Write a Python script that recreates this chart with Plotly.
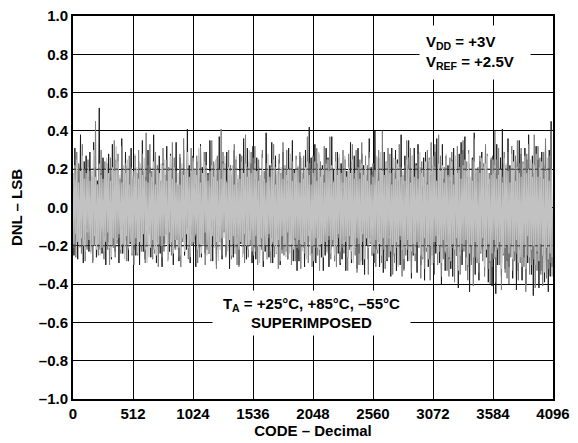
import plotly.graph_objects as go

# ---------------- data (DNL in hundredths of an LSB, one value every 8 codes) ----------------
CODE_STEP = 8

dnl_black_c = [
    12,-25,31,-8,19,-27,22,-14,38,-21,9,-29,24,-17,27,-11,
    16,-23,29,-19,11,-28,34,-13,21,-26,14,-9,52,-22,18,-24,
    26,-15,10,-30,23,-18,28,-12,17,-27,33,-20,13,-23,25,-16,
    20,-29,15,-11,36,-24,12,-21,29,-17,22,-28,9,-19,31,-13,
    14,-22,27,-25,18,-10,24,-30,11,-16,35,-23,19,-27,16,-20,
    30,-12,21,-26,13,-22,38,-15,25,-29,10,-18,27,-24,14,-31,
    23,-19,17,-14,32,-27,9,-23,28,-12,20,-30,15,-21,34,-17,
    11,-28,26,-20,19,-16,30,-25,13,-22,41,-11,22,-29,18,-14,
    27,-17,12,-31,24,-21,16,-13,33,-26,21,-19,10,-24,29,-22,
    18,-24,35,-10,15,-28,23,-20,12,-30,26,-15,37,-18,11,-27,
    24,-13,20,-25,29,-17,14,-32,22,-11,17,-26,30,-21,25,-16,
    13,-30,28,-19,10,-24,36,-14,19,-27,31,-22,16,-12,23,-29,
    32,-21,15,-27,26,-12,21,-25,11,-18,28,-31,14,-23,39,-15,
    17,-26,22,-16,34,-29,13,-20,27,-24,9,-14,25,-30,18,-22,
    29,-11,19,-23,14,-27,31,-18,24,-13,35,-28,20,-17,12,-33,
    21,-28,27,-14,18,-21,11,-31,30,-25,16,-20,42,-12,26,-24,
    15,-20,33,-29,23,-16,28,-11,13,-26,22,-33,17,-25,31,-18,
    26,-31,12,-22,37,-19,20,-28,16,-14,29,-24,11,-30,23,-27,
    10,-17,25,-33,19,-26,14,-21,34,-29,24,-12,27,-19,15,-32,
    31,-24,18,-13,28,-30,22,-35,12,-20,17,-27,36,-16,21,-25,
    19,-29,40,-22,15,-18,26,-31,23,-14,11,-34,29,-23,17,-28,
    24,-15,13,-36,31,-25,18,-19,30,-33,25,-17,14,-30,38,-21,
    12,-32,27,-20,22,-28,35,-15,16,-37,20,-25,31,-12,23,-34,
    33,-18,21,-30,11,-23,26,-38,29,-19,13,-31,24,-27,17,-22,
    17,-35,29,-24,36,-14,12,-29,22,-40,33,-21,15,-33,27,-18,
    22,-27,14,-32,25,-36,31,-17,19,-25,10,-42,28,-23,34,-30,
    30,-20,37,-26,16,-31,23,-44,13,-28,26,-19,39,-35,18,-27,
    14,-38,24,-22,29,-17,20,-33,32,-26,21,-39,12,-29,25,-41,
    27,-23,18,-45,33,-30,15,-24,26,-36,41,-20,23,-32,19,-28,
    36,-31,22,-19,13,-37,30,-27,17,-43,24,-33,35,-22,28,-38,
    20,-26,31,-40,25,-29,38,-21,14,-35,27,-46,18,-30,32,-24,
    25,-42,16,-33,29,-25,22,-39,34,-28,19,-44,30,-36,45,-31,
]

dnl_gray_c = [
    18,-21,14,-26,29,-12,23,-19,11,-24,33,-16,20,-28,15,-22,
    25,-13,19,-23,16,-29,27,-20,45,-15,12,-25,22,-18,30,-11,
    13,-27,24,-17,21,-22,10,-30,26,-14,19,-21,35,-26,17,-19,
    28,-16,12,-24,32,-20,18,-13,23,-28,14,-22,27,-11,21,-25,
    16,-30,26,-19,11,-25,30,-17,20,-23,28,-12,15,-29,39,-18,
    22,-14,33,-21,19,-27,13,-24,29,-16,22,-31,18,-20,12,-26,
    31,-23,17,-12,25,-28,21,-19,14,-25,34,-18,26,-22,19,-14,
    12,-26,28,-31,15,-18,36,-23,19,-11,25,-27,10,-24,31,-20,
    24,-19,20,-15,27,-29,12,-26,32,-21,16,-13,29,-30,22,-17,
    17,-24,11,-28,35,-13,24,-20,18,-32,27,-22,14,-17,41,-25,
    29,-12,23,-26,14,-21,30,-15,22,-27,11,-19,33,-24,16,-30,
    15,-31,19,-18,27,-24,16,-29,38,-14,21,-26,24,-20,29,-12,
    26,-20,32,-23,12,-30,25,-17,15,-22,30,-28,19,-15,23,-27,
    20,-16,14,-29,23,-19,33,-26,21,-13,17,-32,28,-21,11,-24,
    34,-25,22,-14,30,-27,11,-21,26,-30,24,-17,16,-28,27,-19,
    13,-22,29,-32,18,-15,27,-24,12,-20,37,-29,23,-18,20,-31,
    27,-28,16,-21,31,-25,19,-33,24,-18,13,-26,32,-14,25,-23,
    19,-17,37,-27,22,-20,14,-28,29,-31,20,-16,26,-29,14,-21,
    30,-24,21,-15,16,-33,28,-22,11,-27,33,-20,18,-25,30,-34,
    14,-30,25,-28,34,-18,20,-26,27,-16,22,-35,29,-19,17,-23,
    23,-19,12,-31,26,-24,30,-14,19,-29,40,-22,15,-32,24,-27,
    31,-26,28,-20,18,-35,16,-29,25,-21,14,-30,33,-17,21,-36,
    17,-33,22,-25,35,-22,26,-18,31,-34,27,-24,12,-28,19,-20,
    28,-21,15,-37,24,-27,20,-32,13,-23,30,-19,26,-38,34,-25,
    22,-29,33,-18,14,-30,38,-23,27,-36,18,-27,21,-24,15,-33,
    16,-36,26,-28,29,-21,17,-39,22,-25,32,-31,14,-35,28,-22,
    35,-23,19,-33,24,-38,30,-20,15,-30,25,-41,36,-26,20,-29,
    21,-34,27,-24,13,-28,23,-36,33,-19,28,-32,18,-40,26,-31,
    18,-27,40,-39,25,-22,31,-30,20,-43,16,-25,29,-34,22,-37,
    29,-40,20,-26,32,-33,14,-28,27,-24,35,-38,23,-29,31,-26,
    24,-31,17,-44,28,-25,33,-35,19,-30,23,-27,38,-42,16,-33,
    32,-28,26,-35,21,-41,29,-26,36,-37,18,-32,27,-29,40,-36,
]

dnl_light_c = [
    17,-19,22,-14,25,-18,13,-21,19,-16,27,-20,15,-23,18,-13,
    21,-17,14,-24,19,-20,30,-15,16,-22,12,-19,23,-25,17,-21,
    15,-23,20,-18,26,-13,18,-21,14,-26,21,-16,19,-20,32,-17,
    24,-14,17,-22,13,-19,22,-27,18,-15,25,-21,12,-18,20,-24,
    19,-20,28,-16,21,-24,15,-18,23,-20,17,-14,26,-22,14,-29,
    13,-26,18,-21,16,-17,24,-22,12,-25,20,-19,18,-15,23,-20,
    22,-15,25,-19,14,-28,19,-13,27,-18,15,-24,21,-17,13,-22,
    18,-21,12,-25,23,-16,17,-23,20,-14,29,-21,16,-26,19,-18,
    26,-18,20,-14,17,-22,31,-19,13,-24,18,-20,24,-13,22,-25,
    14,-24,19,-27,22,-15,16,-21,25,-18,14,-28,20,-22,15,-16,
    23,-16,27,-20,13,-23,21,-17,19,-25,22,-15,12,-24,27,-19,
    17,-22,15,-18,24,-26,18,-14,23,-20,16,-22,30,-17,18,-23,
    20,-25,23,-15,19,-20,14,-29,17,-16,26,-23,15,-20,13,-27,
    28,-14,16,-23,21,-18,25,-20,12,-24,19,-17,23,-28,21,-15,
    15,-20,22,-26,17,-13,20,-24,28,-19,14,-22,18,-16,25,-21,
    22,-17,13,-19,26,-23,15,-18,21,-27,24,-15,17,-25,12,-20,
    18,-28,24,-16,14,-21,29,-22,16,-19,20,-26,13,-18,23,-24,
    25,-15,19,-24,22,-17,13,-25,24,-20,17,-14,28,-23,18,-19,
    13,-22,27,-18,16,-26,21,-15,18,-23,25,-29,15,-21,20,-16,
    21,-19,15,-30,23,-14,17,-27,22,-16,14,-21,26,-18,12,-25,
    16,-24,20,-17,27,-22,14,-19,29,-25,19,-16,17,-28,24,-20,
    24,-16,18,-23,12,-20,26,-24,15,-18,23,-31,21,-15,16,-22,
    19,-27,14,-21,25,-17,20,-28,13,-23,27,-19,16,-24,22,-18,
    15,-20,29,-25,18,-26,16,-16,24,-21,12,-27,25,-20,19,-30,
    27,-18,21,-15,14,-24,23,-20,19,-29,22,-17,13,-23,28,-21,
    17,-26,16,-28,24,-19,12,-22,27,-16,18,-33,21,-25,15,-19,
    22,-21,25,-17,19,-30,28,-24,16,-20,14,-26,24,-18,20,-27,
    14,-29,18,-23,26,-16,21,-31,23,-22,27,-19,15,-28,17,-24,
    25,-17,22,-26,15,-21,17,-18,20,-32,13,-24,26,-21,23,-20,
    19,-24,13,-19,28,-27,24,-23,14,-17,21,-29,18,-26,16,-31,
    23,-20,27,-32,18,-15,20,-26,25,-22,16,-20,22,-30,28,-23,
    16,-28,21,-19,24,-25,15,-34,19,-21,26,-27,14,-24,20,-26,
]

x_tickvals = [0, 512, 1024, 1536, 2048, 2560, 3072, 3584, 4096]
x_ticktext = ["0", "512", "1024", "1536", "2048", "2560", "3072", "3584", "4096"]
y_tickvals = [-1.0, -0.8, -0.6, -0.4, -0.2, 0.0, 0.2, 0.4, 0.6, 0.8, 1.0]
y_ticktext = ["\u20131.0", "\u20130.8", "\u20130.6", "\u20130.4", "\u20130.2", "0.0",
              "0.2", "0.4", "0.6", "0.8", "1.0"]
limit_lines = [0.2, -0.2]

FONT = "Liberation Sans, Arial, Helvetica, sans-serif"


def codes(n):
    return [i * CODE_STEP for i in range(n)]


fig = go.Figure()
series = [
    (dnl_black_c, "#1e1e1e", 1.0),
    (dnl_gray_c, "#7c7c7c", 1.0),
    (dnl_light_c, "#c2c2c2", 1.2),
]
for vals, col, lw in series:
    fig.add_trace(go.Scatter(
        x=codes(len(vals)), y=[v / 100 for v in vals], mode="lines",
        line=dict(color=col, width=lw), showlegend=False, hoverinfo="skip"))

for yv in limit_lines:
    fig.add_shape(type="line", xref="paper", x0=0, x1=1, yref="y", y0=yv, y1=yv,
                  line=dict(color="#333333", width=1, dash="dot"), layer="above")

fig.add_annotation(
    xref="paper", yref="paper", x=0.8375, y=0.905, xanchor="center", yanchor="middle",
    text="V<sub>DD</sub> = +3V<br>V<sub>REF</sub> = +2.5V", showarrow=False, align="left",
    width=98, height=41, borderpad=6, bgcolor="white",
    font=dict(family=FONT, size=15, color="black", weight="bold"))

fig.add_annotation(
    xref="paper", yref="paper", x=0.497, y=0.224, xanchor="center", yanchor="middle",
    text="T<sub>A</sub> = +25\u00b0C, +85\u00b0C, \u201355\u00b0C<br>SUPERIMPOSED", showarrow=False,
    align="center", width=187, height=34, borderpad=5, bgcolor="white",
    font=dict(family=FONT, size=15, color="black", weight="bold"))

fig.update_layout(
    width=570, height=435,
    margin=dict(l=65, r=25, t=8, b=44),
    paper_bgcolor="white", plot_bgcolor="white",
    font=dict(family=FONT, size=15, color="black", weight="bold"),
    xaxis=dict(range=[0, 4096], tickvals=x_tickvals, ticktext=x_ticktext,
               showgrid=True, gridcolor="black", gridwidth=1, zeroline=False,
               showline=True, linecolor="black", linewidth=2, mirror=True,
               ticks="", ticklen=0, ticklabeloverflow="allow",
               title=dict(text="CODE \u2013 Decimal", standoff=2,
                          font=dict(family=FONT, size=15, weight="bold")),
               automargin=False),
    yaxis=dict(range=[-1, 1], tickvals=y_tickvals, ticktext=y_ticktext,
               showgrid=True, gridcolor="black", gridwidth=1, zeroline=False,
               showline=True, linecolor="black", linewidth=2, mirror=True,
               ticks="", ticklen=0, ticklabeloverflow="allow",
               title=dict(text="DNL \u2013 LSB", standoff=20,
                          font=dict(family=FONT, size=15, weight="bold")),
               automargin=False),
)

fig.write_html("out.html")
